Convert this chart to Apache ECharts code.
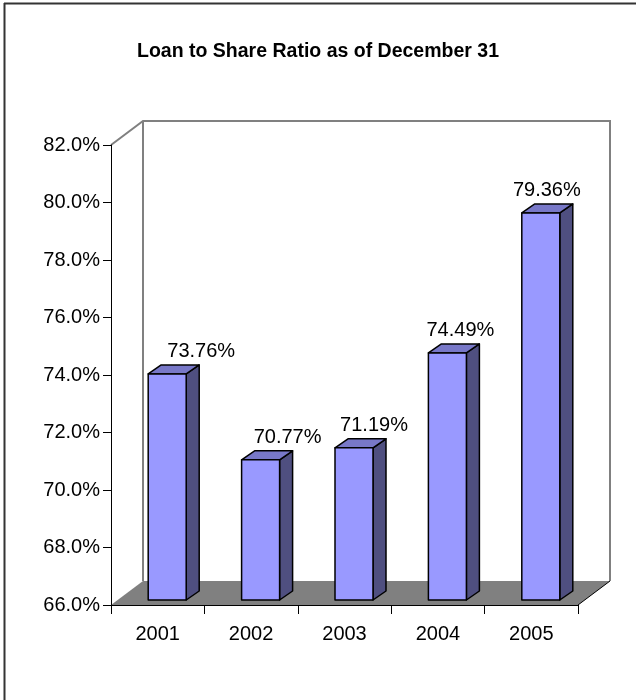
<!DOCTYPE html>
<html>
<head>
<meta charset="utf-8">
<script src="https://cdn.jsdelivr.net/npm/echarts@6/dist/echarts.min.js"></script>
<style>html,body{margin:0;padding:0;background:#fff}#c{width:636px;height:700px}</style>
</head>
<body>
<div id="c"></div>
<script>
var categories = ['2001', '2002', '2003', '2004', '2005'];
var ratioValues = [73.76, 70.77, 71.19, 74.49, 79.36];
var yMin = 66, yMax = 82, yStep = 2;

var DX = 32, DY = 24;        // depth of the 3D box (back wall offset)
var BDX = 13, BDY = 9;       // depth of each bar

var chart = echarts.init(document.getElementById('c'));
var FONT = 'Liberation Sans, Arial, sans-serif';

function renderWalls(params, api) {
  var fl = api.coord([0, yMin]);
  var tl = api.coord([0, yMax]);
  var x0 = params.coordSys.x, x1 = params.coordSys.x + params.coordSys.width;
  var yb = fl[1], yt = tl[1];
  var gray = '#808080';
  return {
    type: 'group',
    children: [
      {type: 'polygon', shape: {points: [[x0, yb], [x1, yb], [x1 + DX, yb - DY], [x0 + DX, yb - DY]]},
       style: {fill: gray, stroke: null}},
      {type: 'polyline', shape: {points: [[x0, yt], [x0 + DX, yt - DY], [x1 + DX, yt - DY], [x1 + DX, yb - DY]]},
       style: {fill: null, stroke: gray, lineWidth: 2}},
      {type: 'line', shape: {x1: x0 + DX, y1: yt - DY, x2: x0 + DX, y2: yb - DY},
       style: {stroke: gray, lineWidth: 2}},
      {type: 'line', shape: {x1: x1, y1: yb, x2: x1 + DX, y2: yb - DY},
       style: {stroke: '#000', lineWidth: 1}}
    ]
  };
}

function renderBar(params, api) {
  var i = api.value(0), v = api.value(1);
  var top = api.coord([i, v]);
  var base = api.coord([i, yMin]);
  var cx = top[0];
  var lx = cx - 9.5, rx = cx + 28.5;
  var ty = top[1] - 8, by = base[1] - 5;
  var stroke = {stroke: '#000', lineWidth: 1.5, lineJoin: 'round'};
  // labels drift leftwards across the chart, as in the 3D projection of the original
  var labelX = lx + 53 - 7 * i;
  return {
    type: 'group',
    children: [
      {type: 'polygon', shape: {points: [[rx, by], [rx + BDX, by - BDY], [rx + BDX, ty - BDY], [rx, ty]]},
       style: Object.assign({fill: '#4F4F80'}, stroke)},
      {type: 'polygon', shape: {points: [[lx, ty], [rx, ty], [rx + BDX, ty - BDY], [lx + BDX, ty - BDY]]},
       style: Object.assign({fill: '#7878C8'}, stroke)},
      {type: 'rect', shape: {x: lx, y: ty, width: rx - lx, height: by - ty},
       style: Object.assign({fill: '#9999FF'}, stroke)},
      {type: 'text', style: {text: v.toFixed(2) + '%', x: labelX, y: ty - BDY - 3,
        textAlign: 'center', textVerticalAlign: 'bottom', fill: '#000', font: '20px ' + FONT}}
    ]
  };
}

chart.setOption({
  animation: false,
  backgroundColor: '#fff',
  title: {
    text: 'Loan to Share Ratio as of December 31',
    left: 313, top: 37, textAlign: 'center',
    textStyle: {fontFamily: FONT, fontSize: 19.5, fontWeight: 'bold', color: '#000'}
  },
  grid: {left: 111, right: 58, top: 145, bottom: 95, containLabel: false},
  xAxis: {
    type: 'category', data: categories,
    axisLine: {lineStyle: {color: '#000', width: 1}},
    axisTick: {show: true, length: 9, alignWithLabel: false, lineStyle: {color: '#000'}},
    axisLabel: {fontFamily: FONT, fontSize: 20, color: '#000', margin: 19},
    splitLine: {show: false}, z: 5
  },
  yAxis: {
    type: 'value', min: yMin, max: yMax, interval: yStep,
    axisLine: {show: true, lineStyle: {color: '#000', width: 1}},
    axisTick: {show: true, length: 8, lineStyle: {color: '#000'}},
    axisLabel: {fontFamily: FONT, fontSize: 20, color: '#000', margin: 11,
      formatter: function (v) { return v.toFixed(1) + '%'; }},
    splitLine: {show: false}, z: 5
  },
  graphic: [
    {type: 'line', shape: {x1: 4, y1: 3.5, x2: 636, y2: 3.5}, style: {stroke: '#333', lineWidth: 2}},
    {type: 'line', shape: {x1: 4.5, y1: 3, x2: 4.5, y2: 700}, style: {stroke: '#333', lineWidth: 2}}
  ],
  series: [
    {type: 'custom', renderItem: renderWalls, data: [[0, yMin]], z: 1, silent: true},
    {type: 'custom', renderItem: renderBar, z: 3,
     data: ratioValues.map(function (v, i) { return [i, v]; })}
  ]
});
</script>
</body>
</html>
